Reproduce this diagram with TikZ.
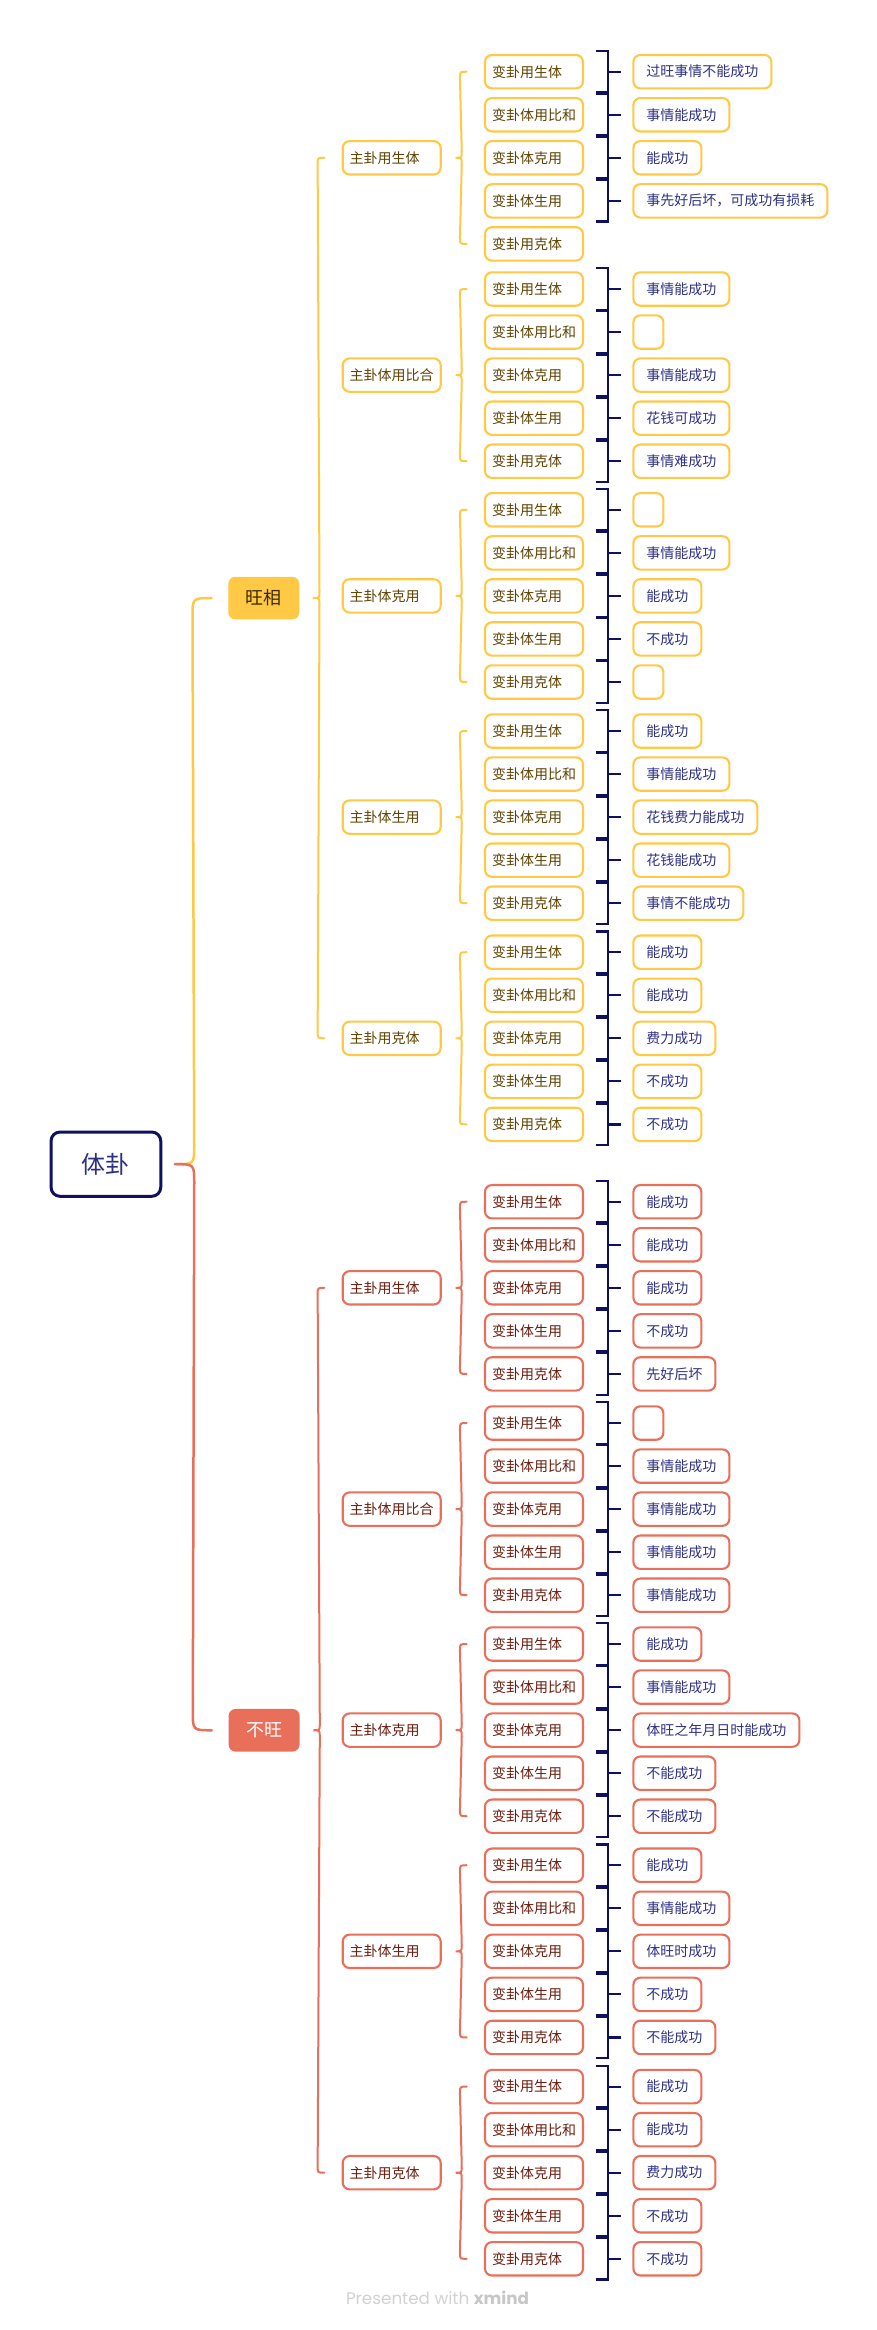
\documentclass[tikz,border=0pt]{standalone}
\usepackage{fontspec}
\usepackage{graphicx}
\setmainfont{Noto Sans CJK SC}
\newfontfamily\wmfont{Poppins}
\usetikzlibrary{calc}

\definecolor{ylw}{HTML}{FFC845}
\definecolor{rd}{HTML}{E86F59}
\definecolor{navy}{HTML}{0E1160}
\definecolor{leaftxt}{HTML}{2E3185}
\definecolor{roottxt}{HTML}{2B3080}
\definecolor{ytxt}{HTML}{5E4300}
\definecolor{rtxt}{HTML}{6A1D0E}
\definecolor{wxtxt}{HTML}{3A2A00}
\definecolor{wmgray}{HTML}{D2D2D2}

\tikzset{
  box/.style={draw, line width=2.1pt, rounded corners=7pt, minimum height=33.4pt,
    inner ysep=0pt, font=\fontsize{14}{16}\selectfont},
  catbox/.style={box, text width=84pt, align=left, inner xsep=7pt},
  leafbox/.style={box, inner xsep=13pt, minimum width=30pt, text=leaftxt, anchor=west},
  ybox/.style={draw=ylw, text=ytxt},
  rbox/.style={draw=rd, text=rtxt},
  yleaf/.style={draw=ylw},
  rleaf/.style={draw=rd},
  bracecurve/.style={line width=2pt, line cap=round},
  rootbrace/.style={line width=2.5pt, line cap=round},
  bracketline/.style={draw=navy, line width=2.2pt},
  lvone/.style={minimum width=71pt, minimum height=42.6pt, rounded corners=7pt,
    inner sep=0pt, font=\fontsize{18}{20}\selectfont},
  rootbox/.style={draw=navy, line width=3pt, rounded corners=9pt, minimum width=109.7pt,
    minimum height=64.3pt, inner sep=0pt, text=roottxt, font=\fontsize{24}{26}\selectfont}
}

% leaf + bracket: #1 group id, #2 index, #3 text (X = none), #4 y|r
\newcommand\leafnode[4]{%
  \def\tmpa{#3}\def\tmpb{X}%
  \ifx\tmpa\tmpb\else
    \node[leafbox,#4leaf] (#1-#2-l) at ([xshift=48.3pt]#1-#2.east) {#3};
    \draw[bracketline] ([shift={(11.6,-20.7)}]#1-#2.east) -- ++(12.4,0) -- ++(0,41.4) -- ++(-12.4,0);
    \draw[bracketline] ([xshift=24pt]#1-#2.east) -- ([xshift=-11pt]#1-#2-l.west);
  \fi}

% curly brace from parent #1 to children #2 (first) .. #3 (last), colour #4
\newcommand\bracefrom[5]{%
  \draw[bracecurve,draw=#4] ([xshift=-17.3pt]#2.west) .. controls ([xshift=-24pt]#2.west) ..
    ([shift={(-24,6.5)}]#2.west) -- ([shift={(20,-6.5)}]#1.east)
    .. controls ([xshift=20pt]#1.east) .. ([xshift=#5pt]#1.east)
    .. controls ([xshift=20pt]#1.east) .. ([shift={(20,6.5)}]#1.east)
    -- ([shift={(-24,-6.5)}]#3.west) .. controls ([xshift=-24pt]#3.west) .. ([xshift=-17.3pt]#3.west);}

% group: #1 id, #2 y|r, #3 first centre y, #4 label, #5..#9 leaves
\newcommand\grp[9]{%
  \foreach \k/\lab in {1/变卦用生体,2/变卦体用比和,3/变卦体克用,4/变卦体生用,5/变卦用克体}{
    \node[catbox,#2box] (#1-\k) at (534,{#3+(\k-1)*43.05}) {\lab};
  }
  \node[catbox,#2box] (#1) at (391.7,{#3+2*43.05}) {#4};
  \leafnode{#1}{1}{#5}{#2}
  \leafnode{#1}{2}{#6}{#2}
  \leafnode{#1}{3}{#7}{#2}
  \leafnode{#1}{4}{#8}{#2}
  \leafnode{#1}{5}{#9}{#2}
  \ifx y#2\bracefrom{#1}{#1-1}{#1-5}{ylw}{14}\else\bracefrom{#1}{#1-1}{#1-5}{rd}{14}\fi
}

\begin{document}
\begin{tikzpicture}[x=1pt,y=-1pt]
\useasboundingbox (0,0) rectangle (876,2330);
\fill[white] (0,0) rectangle (876,2330);

% root and main branches
\node[rootbox] (root) at (105.9,1164.15) {体卦};
\node[lvone, fill=ylw, text=wxtxt] (wx) at (263.8,598.05) {旺相};
\node[lvone, fill=rd, text=white] (bw) at (264.1,1730.25) {不旺};

% 旺相 groups
\grp{a1}{y}{71.7}{主卦用生体}{过旺事情不能成功}{事情能成功}{能成功}{事先好后坏，可成功有损耗}{X}
\grp{a2}{y}{289.0}{主卦体用比合}{事情能成功}{}{事情能成功}{花钱可成功}{事情难成功}
\grp{a3}{y}{509.8}{主卦体克用}{}{事情能成功}{能成功}{不成功}{}
\grp{a4}{y}{731.0}{主卦体生用}{能成功}{事情能成功}{花钱费力能成功}{花钱能成功}{事情不能成功}
\grp{a5}{y}{952.2}{主卦用克体}{能成功}{能成功}{费力成功}{不成功}{不成功}

% 不旺 groups
\grp{b1}{r}{1201.7}{主卦用生体}{能成功}{能成功}{能成功}{不成功}{先好后坏}
\grp{b2}{r}{1423.0}{主卦体用比合}{}{事情能成功}{事情能成功}{事情能成功}{事情能成功}
\grp{b3}{r}{1644.0}{主卦体克用}{能成功}{事情能成功}{体旺之年月日时能成功}{不能成功}{不能成功}
\grp{b4}{r}{1865.2}{主卦体生用}{能成功}{事情能成功}{体旺时成功}{不成功}{不能成功}
\grp{b5}{r}{2086.6}{主卦用克体}{能成功}{能成功}{费力成功}{不成功}{不成功}

% level-1 braces
\bracefrom{wx}{a1}{a5}{ylw}{13.5}
\bracefrom{bw}{b1}{b5}{rd}{13.5}

% root brace
\draw[rootbrace,draw=ylw] ([xshift=12.6pt]root.east) .. controls ([xshift=32pt]root.east) ..
  ([shift={(32,-19)}]root.east) -- ([shift={(-35.6,19)}]wx.west)
  .. controls ([xshift=-35.6pt]wx.west) .. ([xshift=-16.6pt]wx.west);
\draw[rootbrace,draw=rd] ([xshift=12.6pt]root.east) .. controls ([xshift=32pt]root.east) ..
  ([shift={(32,19)}]root.east) -- ([shift={(-35.6,-19)}]bw.west)
  .. controls ([xshift=-35.6pt]bw.west) .. ([xshift=-16.6pt]bw.west);

% watermark
\node[text=wmgray, font=\wmfont, inner sep=0pt] (wm) at (437.5,2298)
  {\resizebox{183pt}{!}{Presented with \textbf{\color{black!22}xmind}}};
\end{tikzpicture}
\end{document}
